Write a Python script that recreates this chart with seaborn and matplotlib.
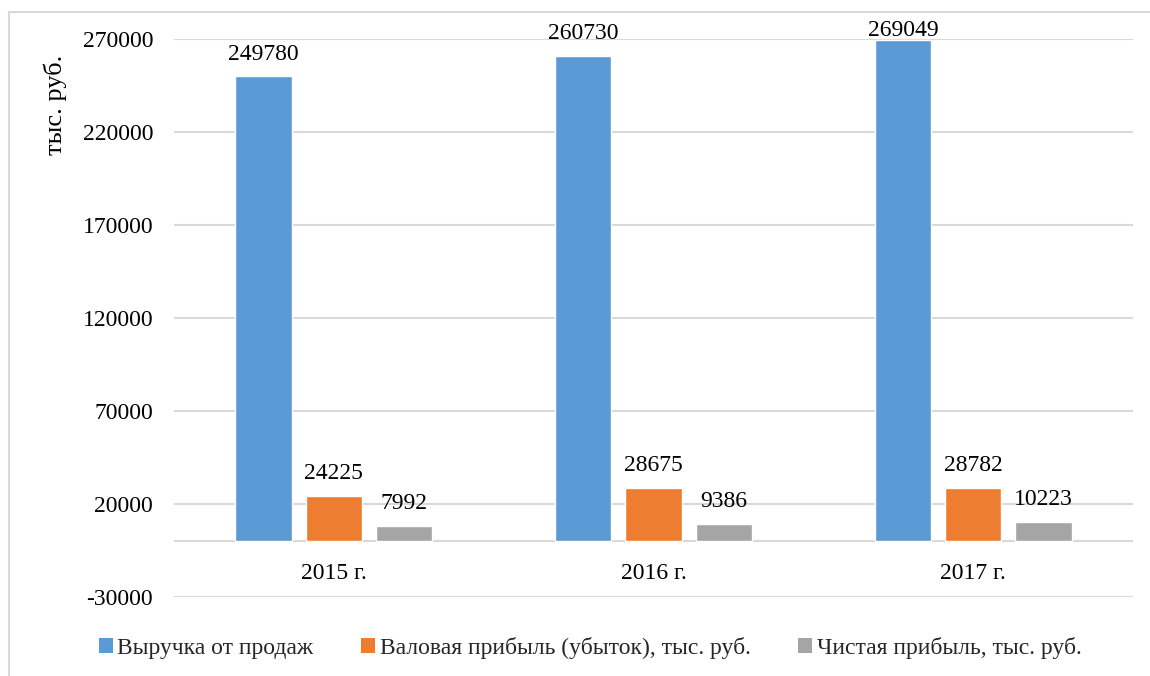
import matplotlib
matplotlib.use("Agg")
import matplotlib.pyplot as plt
import seaborn as sns
import pandas as pd
from matplotlib.patches import Rectangle, Patch

# Data
years = ["2015 г.", "2016 г.", "2017 г."]
series_names = [
    "Выручка от продаж",
    "Валовая прибыль (убыток), тыс. руб.",
    "Чистая прибыль, тыс. руб.",
]
revenue = [249780, 260730, 269049]
gross_profit = [24225, 28675, 28782]
net_profit = [7992, 9386, 10223]
y_ticks = [-30000, 20000, 70000, 120000, 170000, 220000, 270000]
colors = ["#5b9bd5", "#ed7d31", "#a5a5a5"]

df = pd.DataFrame({
    "year": years * 3,
    "series": [series_names[0]] * 3 + [series_names[1]] * 3 + [series_names[2]] * 3,
    "value": revenue + gross_profit + net_profit,
})

sns.set_theme(style="white")
plt.rcParams["font.family"] = ["Liberation Serif", "DejaVu Serif"]
FS = 17

W, H = 1150, 676
fig = plt.figure(figsize=(W / 100, H / 100), dpi=100)
ax = fig.add_axes([174 / W, 1 - 597 / H, (1133 - 174) / W, (597 - 38.7) / H])

sns.barplot(data=df, x="year", y="value", hue="series", hue_order=series_names,
            palette=colors, width=0.66, gap=0.2, saturation=1, ax=ax,
            legend=False, errorbar=None)

ax.set_ylim(-30000, 270000)
ax.set_xlim(-0.5, 2.5)
ax.set_yticks(y_ticks)
ax.set_yticklabels([str(t) for t in y_ticks], fontsize=FS, color="#000000")
ax.tick_params(axis="y", length=0, pad=15)
ax.tick_params(axis="x", length=0, labelbottom=False)
ax.yaxis.grid(True, color="#d9d9d9", linewidth=1.5)
ax.axhline(0, color="#d9d9d9", linewidth=1.5, zorder=0.5)
ax.set_axisbelow(True)
for s in ax.spines.values():
    s.set_visible(False)
ax.set_xlabel("")
ax.set_ylabel("")

# Category labels just under the zero line
for i, yr in enumerate(years):
    ax.annotate(yr, (i, 0), xytext=(0, -23), textcoords="offset points",
                ha="center", va="center", fontsize=FS, color="#000000")

# Value labels above bars
labels = []
for cont in ax.containers:
    labels += ax.bar_label(cont, labels=[str(int(v)) for v in cont.datavalues],
                           padding=8.5, fontsize=FS, color="#000000", clip_on=False)

# Keep value labels inside the chart frame (push down ones that would stick out)
fig.canvas.draw()
renderer = fig.canvas.get_renderer()
top_limit = H - 20
for t in labels:
    bb = t.get_window_extent(renderer)
    if bb.y1 > top_limit:
        dx, dy = t.xyann
        t.xyann = (dx, dy - (bb.y1 - top_limit) * 72 / 100)

# Vertical axis title
fig.text(55 / W, 1 - 55 / H, "тыс. руб.", rotation=90, ha="center",
         va="top", fontsize=19, color="#000000")

# Legend along the bottom
handles = [Patch(facecolor=c, edgecolor="none") for c in colors]
fig.legend(handles, series_names, loc="center", bbox_to_anchor=(590 / W, 1 - 648 / H),
           ncol=3, frameon=False, fontsize=FS, handlelength=0.6, handleheight=0.6,
           handletextpad=0.2, columnspacing=2.0)

# Chart frame
fig.patches.append(Rectangle((9 / W, -0.05), 1.2, 1 - 12 / H + 0.05,
                             transform=fig.transFigure, fill=False,
                             edgecolor="#d9d9d9", linewidth=1.5))

fig.savefig("out.png", dpi=100, facecolor="white")
